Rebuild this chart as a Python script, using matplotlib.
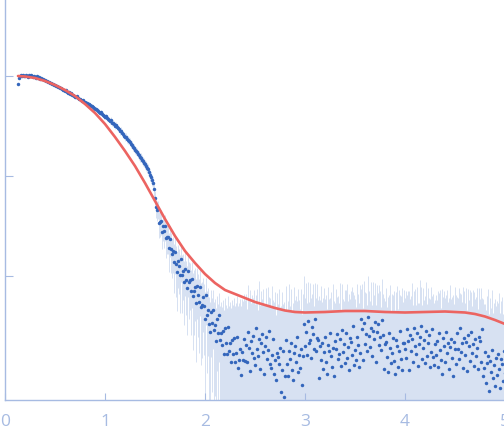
import numpy as np
from matplotlib import pyplot as plt

# scattering data: q / nm^-1, log10 of intensity (arb. units), error (same units)
q_low = [0.13, 0.14, 0.15, 0.16, 0.17, 0.18, 0.19,
         0.20, 0.21, 0.22, 0.23, 0.24, 0.25, 0.26, 0.27, 0.28, 0.29,
         0.30, 0.31, 0.32, 0.33, 0.34, 0.35, 0.36, 0.37, 0.38, 0.39,
         0.40, 0.41, 0.42, 0.43, 0.44, 0.45, 0.46, 0.47, 0.48, 0.49,
         0.50, 0.51, 0.52, 0.53, 0.54, 0.55, 0.56, 0.57, 0.58, 0.59,
         0.60, 0.61, 0.62, 0.63, 0.64, 0.65, 0.66, 0.67, 0.68, 0.69,
         0.70, 0.71, 0.72, 0.73, 0.74, 0.75, 0.76, 0.77, 0.78, 0.79,
         0.80, 0.81, 0.82, 0.83, 0.84, 0.85, 0.86, 0.87, 0.88, 0.89,
         0.90, 0.91, 0.92, 0.93, 0.94, 0.95, 0.96, 0.97, 0.98, 0.99,
         1.00, 1.01, 1.02, 1.03, 1.04, 1.05, 1.06, 1.07, 1.08, 1.09,
         1.10, 1.11, 1.12, 1.13, 1.14, 1.15, 1.16, 1.17, 1.18, 1.19,
         1.20, 1.21, 1.22, 1.23, 1.24, 1.25, 1.26, 1.27, 1.28, 1.29,
         1.30, 1.31, 1.32, 1.33, 1.34, 1.35, 1.36, 1.37, 1.38, 1.39,
         1.40, 1.41, 1.42, 1.43, 1.44, 1.45, 1.46, 1.47, 1.48, 1.49]
log_i_low = [2.92, 2.98, 3.00, 3.01, 3.005, 3.01, 3.00,
             3.005, 3.01, 3.00, 2.995, 3.01, 3.005, 3.015, 3.00, 2.99, 3.005,
             2.995, 2.985, 3.00, 2.98, 2.99, 2.975, 2.985, 2.97, 2.975, 2.96,
             2.96, 2.95, 2.955, 2.945, 2.94, 2.93, 2.935, 2.92, 2.925, 2.91,
             2.91, 2.90, 2.905, 2.89, 2.895, 2.88, 2.885, 2.87, 2.865, 2.86,
             2.855, 2.86, 2.845, 2.835, 2.84, 2.825, 2.83, 2.81, 2.815, 2.80,
             2.795, 2.79, 2.80, 2.78, 2.775, 2.77, 2.765, 2.755, 2.76, 2.745,
             2.74, 2.735, 2.73, 2.72, 2.725, 2.71, 2.705, 2.70, 2.69, 2.685,
             2.67, 2.675, 2.66, 2.655, 2.645, 2.63, 2.64, 2.62, 2.615, 2.60,
             2.595, 2.60, 2.58, 2.575, 2.565, 2.55, 2.56, 2.535, 2.53, 2.52,
             2.505, 2.51, 2.49, 2.48, 2.47, 2.45, 2.455, 2.435, 2.42, 2.405,
             2.39, 2.395, 2.37, 2.36, 2.355, 2.34, 2.32, 2.31, 2.295, 2.28,
             2.265, 2.255, 2.24, 2.225, 2.21, 2.19, 2.185, 2.165, 2.15, 2.135,
             2.115, 2.10, 2.08, 2.07, 2.045, 2.01, 1.99, 1.96, 1.93, 1.87]
err_low = [9, 8, 8, 8, 8, 8, 8,
           8, 8, 8, 8, 8, 8, 8, 8, 8, 8,
           8, 8, 8, 8, 8, 8, 8, 8, 8, 8,
           9, 9, 9, 10, 10, 10, 10, 10, 11, 11,
           11, 11, 12, 12, 12, 12, 13, 13, 13, 13,
           14, 14, 14, 14, 15, 15, 15, 15, 16, 16,
           16, 16, 17, 17, 17, 17, 18, 18, 18, 18,
           19, 19, 19, 19, 20, 20, 20, 20, 21, 21,
           21, 21, 22, 22, 22, 22, 22, 23, 23, 23,
           23, 23, 23, 23, 23, 23, 23, 23, 23, 23,
           23, 22, 22, 22, 22, 22, 22, 21, 21, 21,
           21, 20, 20, 20, 19, 19, 19, 18, 18, 18,
           17, 17, 17, 16, 16, 16, 15, 15, 15, 14,
           14, 14, 14, 13, 13, 13, 13, 12, 12, 12]

q_mid = [1.50, 1.51, 1.52, 1.53, 1.54, 1.55, 1.56, 1.57, 1.58, 1.59,
         1.60, 1.61, 1.62, 1.63, 1.64, 1.65, 1.66, 1.67, 1.68, 1.69,
         1.70, 1.71, 1.72, 1.73, 1.74, 1.75, 1.76, 1.77, 1.78, 1.79,
         1.80, 1.81, 1.82, 1.83, 1.84, 1.85, 1.86, 1.87, 1.88, 1.89,
         1.90, 1.91, 1.92, 1.93, 1.94, 1.95, 1.96, 1.97, 1.98, 1.99,
         2.00, 2.01, 2.02, 2.03, 2.04, 2.05, 2.06, 2.07, 2.08, 2.09,
         2.10, 2.11, 2.12, 2.13, 2.14, 2.15, 2.16, 2.17, 2.18, 2.19,
         2.20, 2.21, 2.22, 2.23, 2.24, 2.25, 2.26, 2.27, 2.28, 2.29,
         2.30, 2.31, 2.32, 2.33, 2.34, 2.35, 2.36, 2.37, 2.38, 2.39, 2.40]
log_i_mid = [1.78, 1.69, 1.66, 1.67, 1.53, 1.54, 1.55, 1.44, 1.50, 1.45,
             1.50, 1.38, 1.39, 1.39, 1.28, 1.37, 1.27, 1.22, 1.25, 1.14,
             1.24, 1.12, 1.04, 1.15, 1.10, 1.01, 1.17, 1.01, 1.05, 0.94,
             1.07, 0.96, 0.88, 1.05, 0.94, 0.96, 0.85, 0.97, 0.80, 0.85,
             0.89, 0.73, 0.90, 0.81, 0.74, 0.89, 0.69, 0.71, 0.79, 0.70,
             0.57, 0.81, 0.61, 0.66, 0.52, 0.44, 0.64, 0.53, 0.66, 0.46,
             0.51, 0.35, 0.57, 0.43, 0.61, 0.36, 0.43, 0.31, 0.45, 0.22,
             0.48, 0.33, 0.22, 0.49, 0.25, 0.33, 0.14, 0.36, 0.22, 0.38,
             0.14, 0.23, 0.39, 0.08, 0.16, 0.27, 0.01, 0.24, 0.16, 0.37, 0.15]
err_mid = [11, 11, 10, 10, 10, 10, 10, 9, 9, 9,
           9, 9, 8, 8, 8, 8, 8, 7, 7, 7,
           7, 7, 6.5, 6.5, 6, 6, 6, 6, 5.5, 5.5,
           5.5, 5, 5, 5, 5, 4.5, 4.5, 4.5, 4.5, 4.5,
           4.2, 4, 4.2, 4, 3.8, 3.8, 3.6, 3.6, 3.4, 3.4,
           3.2, 3.2, 3.0, 3.0, 2.9, 2.8, 2.8, 2.7, 2.7, 2.6,
           2.6, 2.6, 2.6, 2.6, 2.7, 2.7, 2.8, 2.8, 2.9, 2.9,
           3.0, 3.0, 3.1, 3.2, 3.2, 3.3, 3.4, 3.4, 3.5, 3.6,
           3.6, 3.7, 3.8, 3.8, 3.9, 4.0, 4.0, 4.1, 4.2, 4.2, 4.3]

q_high = [2.41, 2.42, 2.43, 2.44, 2.45, 2.46, 2.47, 2.48, 2.49, 2.50,
          2.51, 2.52, 2.53, 2.54, 2.55, 2.56, 2.57, 2.58, 2.59, 2.60,
          2.61, 2.62, 2.63, 2.64, 2.65, 2.66, 2.67, 2.68, 2.69, 2.70,
          2.71, 2.72, 2.73, 2.74, 2.75, 2.76, 2.77, 2.78, 2.79, 2.80,
          2.81, 2.82, 2.83, 2.84, 2.85, 2.86, 2.87, 2.88, 2.89, 2.90,
          2.91, 2.92, 2.93, 2.94, 2.95, 2.96, 2.97, 2.98, 2.99, 3.00,
          3.01, 3.02, 3.03, 3.04, 3.05, 3.06, 3.07, 3.08, 3.09, 3.10,
          3.11, 3.12, 3.13, 3.14, 3.15, 3.16, 3.17, 3.18, 3.19, 3.20,
          3.21, 3.22, 3.23, 3.24, 3.25, 3.26, 3.27, 3.28, 3.29, 3.30,
          3.31, 3.32, 3.33, 3.34, 3.35, 3.36, 3.37, 3.38, 3.39, 3.40,
          3.41, 3.42, 3.43, 3.44, 3.45, 3.46, 3.47, 3.48, 3.49, 3.50,
          3.51, 3.52, 3.53, 3.54, 3.55, 3.56, 3.57, 3.58, 3.59, 3.60,
          3.61, 3.62, 3.63, 3.64, 3.65, 3.66, 3.67, 3.68, 3.69, 3.70,
          3.71, 3.72, 3.73, 3.74, 3.75, 3.76, 3.77, 3.78, 3.79, 3.80,
          3.81, 3.82, 3.83, 3.84, 3.85, 3.86, 3.87, 3.88, 3.89, 3.90,
          3.91, 3.92, 3.93, 3.94, 3.95, 3.96, 3.97, 3.98, 3.99, 4.00,
          4.01, 4.02, 4.03, 4.04, 4.05, 4.06, 4.07, 4.08, 4.09, 4.10,
          4.11, 4.12, 4.13, 4.14, 4.15, 4.16, 4.17, 4.18, 4.19, 4.20,
          4.21, 4.22, 4.23, 4.24, 4.25, 4.26, 4.27, 4.28, 4.29, 4.30,
          4.31, 4.32, 4.33, 4.34, 4.35, 4.36, 4.37, 4.38, 4.39, 4.40,
          4.41, 4.42, 4.43, 4.44, 4.45, 4.46, 4.47, 4.48, 4.49, 4.50,
          4.51, 4.52, 4.53, 4.54, 4.55, 4.56, 4.57, 4.58, 4.59, 4.60,
          4.61, 4.62, 4.63, 4.64, 4.65, 4.66, 4.67, 4.68, 4.69, 4.70,
          4.71, 4.72, 4.73, 4.74, 4.75, 4.76, 4.77, 4.78, 4.79, 4.80,
          4.81, 4.82, 4.83, 4.84, 4.85, 4.86, 4.87, 4.88, 4.89, 4.90,
          4.91, 4.92, 4.93, 4.94, 4.95, 4.96, 4.97, 4.98, 4.99, 5.00]
log_i_high = [0.31, 0.14, 0.44, 0.28, 0.05, 0.35, 0.23, 0.40, 0.18, 0.11,
              0.48, 0.27, 0.20, 0.37, 0.07, 0.33, 0.42, 0.24, 0.02, 0.30,
              0.39, 0.17, 0.26, 0.45, 0.12, 0.08, 0.21, 0.37, 0.02, 0.16,
              -0.04, 0.23, 0.19, 0.12, 0.28, -0.16, 0.06, 0.25, -0.21, 0.00,
              0.36, 0.12, 0.00, 0.25, 0.17, 0.33, 0.06, -0.04, 0.23, 0.30,
              0.14, 0.39, 0.04, 0.21, 0.08, 0.27, -0.09, 0.20, 0.52, 0.30,
              0.44, 0.21, 0.55, 0.33, 0.36, 0.18, 0.49, 0.42, 0.27, 0.57,
              0.25, 0.38, 0.36, -0.02, 0.30, 0.16, 0.33, 0.07, 0.24, 0.39,
              0.14, 0.02, 0.31, 0.25, 0.43, 0.20, 0.09, 0.28, 0.00, 0.35,
              0.27, 0.42, 0.17, 0.22, 0.37, 0.10, 0.46, 0.24, 0.32, 0.13,
              0.43, 0.18, 0.29, 0.06, 0.38, 0.34, 0.21, 0.50, 0.11, 0.26,
              0.16, 0.39, 0.31, 0.09, 0.23, 0.57, 0.47, 0.16, 0.53, 0.32,
              0.42, 0.25, 0.59, 0.40, 0.29, 0.48, 0.20, 0.45, 0.37, 0.54,
              0.14, 0.44, 0.52, 0.31, 0.39, 0.26, 0.56, 0.41, 0.07, 0.32,
              0.34, 0.19, 0.04, 0.43, 0.28, 0.13, 0.23, 0.38, 0.15, 0.02,
              0.36, 0.30, 0.09, 0.25, 0.45, 0.17, 0.06, 0.33, 0.33, 0.27,
              0.18, 0.47, 0.35, 0.06, 0.41, 0.25, 0.37, 0.14, 0.48, 0.30,
              0.22, 0.43, 0.10, 0.32, 0.39, 0.50, 0.17, 0.28, 0.36, 0.13,
              0.45, 0.20, 0.33, 0.41, 0.09, 0.24, 0.47, 0.19, 0.11, 0.32,
              0.21, 0.35, 0.09, 0.43, 0.26, 0.16, 0.02, 0.38, 0.30, 0.14,
              0.44, 0.23, 0.33, 0.07, 0.29, 0.37, 0.18, 0.00, 0.34, 0.27,
              0.12, 0.43, 0.27, 0.17, 0.48, 0.24, 0.33, 0.08, 0.38, 0.21,
              0.34, 0.05, 0.41, 0.30, 0.15, 0.44, 0.23, 0.32, 0.10, 0.37,
              0.20, 0.28, 0.07, 0.39, 0.35, 0.14, 0.47, 0.00, 0.08, 0.24,
              -0.07, 0.13, 0.20, -0.15, 0.15, 0.04, 0.26, -0.02, 0.11, -0.10,
              0.18, 0.01, 0.22, 0.07, -0.12, 0.17, 0.12, -0.05, 0.25, 0.03]
err_high = [4.6, 3.3, 5.4, 3.9, 6.2, 3.1, 4.8, 3.5, 5.8, 4.0,
            3.4, 5.6, 3.0, 6.5, 3.9, 4.9, 3.2, 5.7, 4.2, 3.1,
            5.2, 3.6, 6.0, 3.3, 4.7, 3.8, 6.4, 3.4, 4.5, 5.5,
            3.2, 5.0, 3.7, 6.1, 3.0, 4.3, 5.8, 3.5, 4.9, 3.6,
            5.6, 3.1, 4.6, 6.6, 3.5, 5.3, 3.3, 4.4, 6.0, 3.7,
            4.9, 3.2, 6.3, 4.1, 3.5, 5.6, 3.4, 5.0, 6.8, 4.0,
            5.8, 3.7, 5.1, 3.3, 6.2, 4.5, 3.5, 5.6, 3.1, 4.8,
            4.2, 6.0, 3.5, 5.4, 3.7, 6.5, 3.3, 4.8, 5.9, 3.5,
            5.1, 3.6, 5.8, 4.1, 3.3, 5.4, 3.5, 6.4, 4.6, 3.1,
            5.6, 3.5, 4.9, 3.7, 6.1, 3.3, 5.4, 4.1, 3.5, 5.9,
            4.6, 6.8, 3.7, 5.4, 3.5, 4.9, 6.1, 3.7, 5.1, 4.1,
            3.5, 5.9, 4.6, 4.1, 6.5, 3.7, 5.4, 3.3, 5.6, 4.8,
            4.1, 3.3, 6.2, 4.6, 3.7, 5.6, 3.5, 5.9, 4.1, 5.1,
            3.7, 5.4, 3.5, 6.1, 4.6, 3.1, 5.6, 4.1, 4.9, 3.5,
            5.4, 3.3, 5.1, 3.7, 6.2, 3.1, 4.9, 4.1, 5.6, 3.5,
            4.6, 5.9, 3.5, 5.4, 3.7, 4.9, 6.4, 3.3, 5.1, 4.1,
            5.6, 3.5, 4.9, 5.9, 3.3, 4.6, 6.2, 3.7, 4.1, 5.4,
            3.5, 5.1, 4.1, 3.3, 6.6, 4.6, 3.7, 5.6, 3.5, 4.9,
            5.9, 3.7, 5.4, 3.5, 4.6, 6.1, 3.3, 5.1, 4.1, 3.7,
            4.9, 3.5, 5.9, 4.1, 5.4, 3.3, 6.4, 3.7, 5.1, 4.6,
            3.7, 5.6, 3.3, 4.9, 6.2, 3.5, 4.6, 5.4, 3.1, 5.9,
            5.1, 3.5, 4.1, 6.1, 3.7, 4.9, 3.3, 6.5, 4.6, 3.7,
            5.4, 3.5, 4.9, 3.7, 5.9, 4.1, 3.3, 5.1, 5.6, 3.5,
            4.6, 5.6, 3.5, 5.1, 3.7, 6.2, 3.1, 4.9, 4.1, 3.5,
            3.7, 4.9, 5.9, 3.5, 4.6, 3.7, 5.4, 3.3, 4.1, 5.1,
            3.5, 4.6, 3.7, 5.6, 3.5, 4.1, 4.9, 3.3, 3.7, 4.6]

# model curve
q_fit = [0.13, 0.2, 0.3, 0.4, 0.5, 0.6, 0.7, 0.8, 0.9, 1.0, 1.1, 1.2, 1.3, 1.4, 1.5, 1.6, 1.7, 1.8, 1.9,
         2.0, 2.1, 2.2, 2.3, 2.4, 2.5, 2.6, 2.7, 2.8, 2.9, 3.0, 3.2, 3.4, 3.6, 3.8, 4.0, 4.2, 4.4, 4.6,
         4.7, 4.8, 4.9, 5.0]
log_i_fit = [3.00, 2.995, 2.98, 2.95, 2.91, 2.86, 2.80, 2.72, 2.63, 2.52, 2.39, 2.25, 2.10, 1.93, 1.75,
             1.57, 1.40, 1.25, 1.13, 1.02, 0.93, 0.86, 0.82, 0.78, 0.74, 0.71, 0.68, 0.655, 0.64, 0.635,
             0.64, 0.65, 0.65, 0.64, 0.635, 0.64, 0.645, 0.635, 0.62, 0.595, 0.56, 0.52]

axis_color = "#a7bbe2"
point_color = "#3466bc"
band_color = "#d3def1"
fit_color = "#ec6461"

q = np.array(q_low + q_mid + q_high)
intensity = 10 ** np.array(log_i_low + log_i_mid + log_i_high)
err = np.array(err_low + err_mid + err_high)
fit = 10 ** np.array(log_i_fit)

fig = plt.figure(figsize=(5.04, 4.38), dpi=100)
ax = fig.add_axes([5 / 504, 38 / 438, 500 / 504, 400 / 438])

ax.vlines(q, np.maximum(intensity - err, 1e-3), intensity + err, color=band_color, lw=0.65, zorder=1)
ax.plot(q, intensity, "o", ms=2.5, mew=0, color=point_color, zorder=2)
ax.plot(q_fit, fit, "-", lw=1.9, color=fit_color, zorder=3, solid_capstyle="round")

ax.set_yscale("log")
ax.set_xlim(0, 5)
ax.set_ylim(10 ** -0.24, 10 ** 3.76)
ax.set_xticks([0, 1, 2, 3, 4, 5])
ax.set_yticks([10, 100, 1000])
ax.yaxis.set_minor_locator(plt.NullLocator())
ax.set_yticklabels([])

for side in ["top", "right"]:
    ax.spines[side].set_visible(False)
for side in ["left", "bottom"]:
    ax.spines[side].set_color(axis_color)
    ax.spines[side].set_linewidth(1.0)

ax.tick_params(axis="x", direction="in", length=5, width=0.8, color=axis_color,
               labelcolor=axis_color, labelsize=12.5, pad=10)
ax.tick_params(axis="y", direction="in", length=6, width=0.8, color=axis_color, left=True)
for label in ax.get_xticklabels():
    label.set_fontfamily("Open Sans")

fig.savefig("out.png", dpi=100)
